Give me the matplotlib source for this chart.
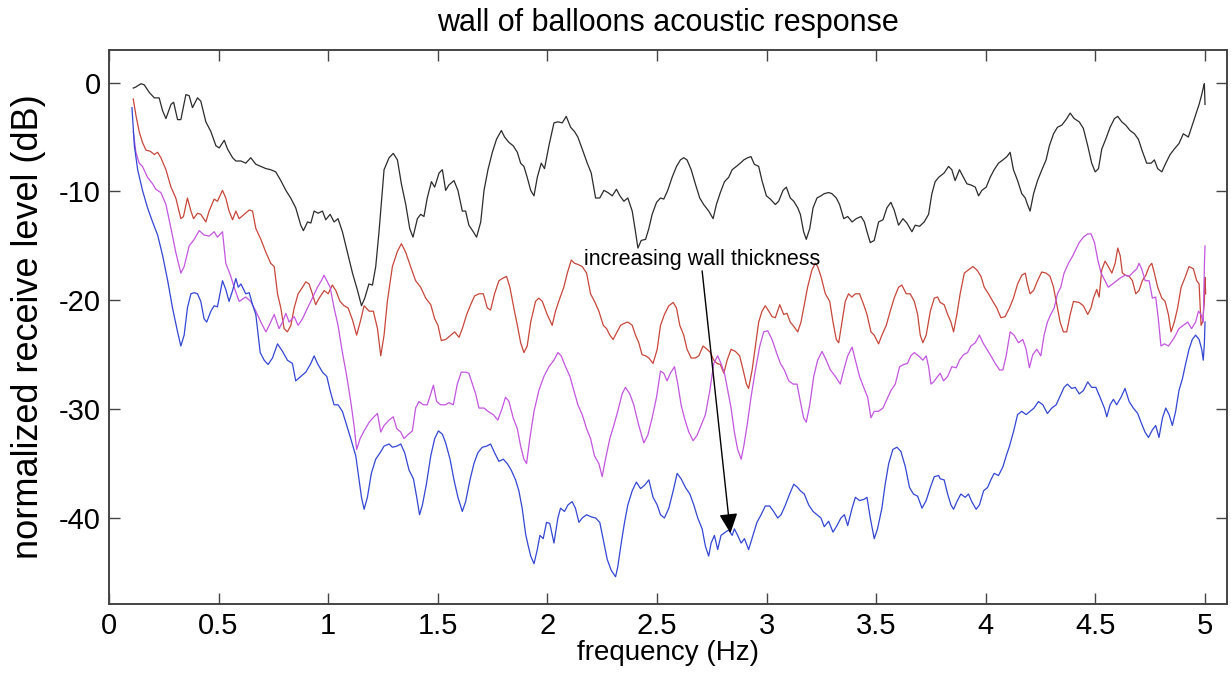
import matplotlib

matplotlib.use("Agg")
import matplotlib.pyplot as plt
import numpy as np

plt.rcParams["font.family"] = ["Liberation Sans", "DejaVu Sans"]
plt.rcParams["axes.unicode_minus"] = False

# 측정 곡선 (frequency Hz, level dB) - 그림에서 읽은 값
black_pts = [
    (0.111, -0.5), (0.123, -0.4), (0.146, -0.1), (0.161, -0.2), (0.184, -0.9), (0.207, -1.4),
    (0.229, -1.4), (0.245, -2.6), (0.260, -3.3), (0.283, -2.0), (0.295, -1.8), (0.313, -3.4),
    (0.328, -3.4), (0.351, -1.1), (0.366, -1.2), (0.381, -2.3), (0.404, -1.4), (0.419, -1.7),
    (0.442, -3.6), (0.465, -4.5), (0.488, -5.8), (0.503, -6.0), (0.526, -5.3), (0.541, -6.1),
    (0.564, -6.9), (0.579, -7.2), (0.602, -7.2), (0.624, -7.4), (0.647, -6.9), (0.670, -7.5),
    (0.693, -7.7), (0.716, -7.9), (0.738, -8.0), (0.761, -8.2), (0.784, -9.0), (0.807, -9.9),
    (0.829, -10.6), (0.852, -11.5), (0.875, -13.1), (0.887, -13.6), (0.906, -12.8), (0.921, -12.9),
    (0.936, -11.8), (0.954, -12.0), (0.974, -11.8), (0.989, -12.6), (1.009, -12.1), (1.027, -12.8),
    (1.045, -12.5), (1.065, -13.7), (1.088, -15.6), (1.111, -17.5), (1.134, -19.1), (1.152, -20.5),
    (1.167, -19.8), (1.186, -18.5), (1.202, -18.6), (1.217, -16.9), (1.232, -13.7), (1.255, -8.0),
    (1.278, -6.9), (1.297, -6.5), (1.316, -7.1), (1.334, -9.3), (1.354, -11.2), (1.372, -13.4),
    (1.387, -14.2), (1.407, -12.5), (1.422, -12.1), (1.437, -12.3), (1.452, -10.6), (1.471, -9.1),
    (1.486, -9.6), (1.506, -8.3), (1.521, -8.0), (1.536, -9.9), (1.551, -9.4), (1.574, -9.0),
    (1.592, -9.9), (1.612, -11.8), (1.627, -11.8), (1.642, -13.1), (1.662, -13.7), (1.677, -14.2),
    (1.696, -12.8), (1.711, -9.9), (1.729, -8.0), (1.749, -6.4), (1.768, -5.2), (1.790, -4.4),
    (1.805, -5.0), (1.825, -5.5), (1.844, -5.8), (1.863, -6.4), (1.878, -7.4), (1.893, -7.7),
    (1.908, -8.7), (1.924, -9.9), (1.939, -10.4), (1.954, -8.7), (1.972, -7.4), (1.987, -7.9),
    (2.007, -5.8), (2.030, -3.7), (2.048, -3.6), (2.068, -3.7), (2.086, -3.1), (2.106, -4.1),
    (2.124, -4.5), (2.139, -5.0), (2.159, -6.1), (2.182, -7.4), (2.200, -8.3), (2.220, -10.6),
    (2.239, -10.6), (2.258, -9.9), (2.276, -10.1), (2.296, -10.4), (2.315, -9.8), (2.331, -10.4),
    (2.349, -10.9), (2.367, -10.6), (2.387, -11.8), (2.402, -13.7), (2.413, -15.2), (2.428, -14.5),
    (2.448, -14.4), (2.463, -13.4), (2.478, -12.1), (2.498, -11.0), (2.516, -10.6), (2.531, -10.7),
    (2.549, -9.9), (2.569, -8.7), (2.589, -7.7), (2.607, -7.1), (2.622, -6.9), (2.637, -7.1),
    (2.656, -8.0), (2.675, -9.3), (2.695, -10.6), (2.713, -11.2), (2.736, -11.8), (2.756, -12.5),
    (2.771, -11.2), (2.789, -10.1), (2.808, -9.1), (2.827, -8.7), (2.843, -8.0), (2.862, -7.7),
    (2.880, -7.4), (2.896, -7.1), (2.914, -6.9), (2.929, -6.8), (2.944, -7.5), (2.964, -7.7),
    (2.979, -9.0), (2.999, -10.4), (3.017, -10.7), (3.040, -11.2), (3.055, -10.9), (3.075, -9.9),
    (3.090, -9.6), (3.108, -10.6), (3.124, -10.9), (3.142, -11.5), (3.154, -12.1), (3.169, -13.7),
    (3.181, -14.4), (3.197, -13.4), (3.212, -11.5), (3.230, -10.6), (3.248, -10.4), (3.263, -10.2),
    (3.283, -10.1), (3.298, -10.2), (3.318, -10.6), (3.333, -11.2), (3.352, -12.5), (3.370, -12.3),
    (3.390, -12.8), (3.409, -12.5), (3.431, -12.3), (3.446, -12.8), (3.458, -13.7), (3.473, -14.7),
    (3.491, -14.5), (3.511, -12.8), (3.531, -12.6), (3.549, -11.5), (3.567, -11.0), (3.582, -11.7),
    (3.602, -13.1), (3.622, -12.5), (3.640, -12.9), (3.663, -13.7), (3.678, -13.1), (3.698, -13.2),
    (3.719, -12.8), (3.739, -12.1), (3.754, -10.2), (3.769, -9.1), (3.785, -8.7), (3.810, -8.3),
    (3.830, -7.7), (3.845, -8.0), (3.860, -9.0), (3.880, -8.0), (3.898, -8.7), (3.914, -9.3),
    (3.932, -9.4), (3.952, -9.6), (3.967, -10.4), (3.982, -9.9), (4.002, -9.6), (4.020, -8.7),
    (4.038, -8.0), (4.058, -7.4), (4.078, -7.1), (4.096, -6.8), (4.111, -6.4), (4.126, -8.0),
    (4.145, -9.0), (4.164, -10.2), (4.180, -10.6), (4.190, -11.2), (4.202, -11.8), (4.218, -10.2),
    (4.236, -9.0), (4.256, -8.0), (4.275, -7.1), (4.290, -5.8), (4.309, -4.7), (4.327, -4.1),
    (4.347, -3.9), (4.366, -3.4), (4.385, -2.8), (4.403, -3.3), (4.426, -3.6), (4.445, -4.2),
    (4.465, -5.8), (4.483, -7.4), (4.499, -8.2), (4.514, -7.9), (4.529, -6.1), (4.547, -5.2),
    (4.567, -4.1), (4.587, -3.3), (4.602, -3.1), (4.620, -3.6), (4.638, -3.9), (4.658, -4.4),
    (4.678, -4.7), (4.696, -5.2), (4.714, -6.3), (4.734, -7.4), (4.754, -7.4), (4.769, -7.1),
    (4.784, -7.9), (4.803, -8.2), (4.821, -7.4), (4.841, -6.6), (4.860, -6.1), (4.881, -5.6),
    (4.901, -4.7), (4.924, -5.0), (4.942, -3.9), (4.957, -3.0), (4.973, -2.0), (4.985, -1.1),
    (4.994, -0.3), (4.997, -0.1), (5.000, -2.0),
]

red_pts = [
    (0.111, -1.5), (0.123, -3.0), (0.138, -4.5), (0.153, -5.5), (0.169, -6.2), (0.188, -6.3),
    (0.207, -6.6), (0.222, -6.4), (0.237, -6.9), (0.260, -8.0), (0.283, -9.6), (0.305, -10.6),
    (0.328, -12.5), (0.340, -12.3), (0.358, -10.6), (0.374, -11.8), (0.386, -12.5), (0.404, -12.0),
    (0.419, -12.1), (0.442, -12.8), (0.457, -11.8), (0.480, -10.7), (0.495, -10.9), (0.518, -9.9),
    (0.533, -10.6), (0.548, -11.8), (0.564, -12.6), (0.579, -11.8), (0.594, -12.5), (0.617, -12.1),
    (0.640, -11.7), (0.655, -11.8), (0.670, -13.4), (0.693, -14.4), (0.716, -15.6), (0.738, -16.6),
    (0.754, -16.9), (0.769, -19.4), (0.784, -20.7), (0.799, -22.6), (0.814, -22.9), (0.830, -22.3),
    (0.845, -20.7), (0.863, -19.4), (0.883, -18.8), (0.898, -18.3), (0.913, -18.5), (0.928, -19.4),
    (0.943, -20.4), (0.959, -19.8), (0.982, -19.1), (1.000, -19.4), (1.019, -18.6), (1.035, -19.1),
    (1.054, -20.1), (1.073, -20.5), (1.091, -20.7), (1.111, -21.8), (1.130, -23.2), (1.146, -22.0),
    (1.164, -20.5), (1.187, -21.0), (1.206, -21.0), (1.225, -22.6), (1.240, -25.1), (1.255, -23.2),
    (1.270, -20.1), (1.293, -16.9), (1.316, -15.5), (1.334, -14.8), (1.354, -15.6), (1.376, -16.9),
    (1.399, -18.2), (1.422, -18.8), (1.445, -19.8), (1.468, -20.4), (1.486, -21.7), (1.501, -22.3),
    (1.516, -23.7), (1.536, -23.6), (1.559, -23.2), (1.577, -22.9), (1.597, -23.4), (1.612, -22.6),
    (1.632, -21.3), (1.650, -20.4), (1.668, -19.6), (1.688, -19.4), (1.708, -19.4), (1.726, -20.7),
    (1.741, -20.9), (1.759, -19.4), (1.779, -18.2), (1.794, -18.0), (1.814, -17.8), (1.829, -18.8),
    (1.847, -20.7), (1.866, -22.6), (1.878, -23.9), (1.893, -24.8), (1.908, -24.2), (1.924, -22.0),
    (1.946, -20.1), (1.961, -19.8), (1.977, -20.1), (1.999, -21.3), (2.022, -22.3), (2.037, -21.0),
    (2.057, -19.8), (2.075, -18.8), (2.091, -17.5), (2.109, -16.3), (2.124, -16.6), (2.139, -16.7),
    (2.159, -16.9), (2.179, -17.5), (2.197, -19.4), (2.215, -20.1), (2.235, -21.0), (2.255, -22.3),
    (2.270, -22.6), (2.285, -23.2), (2.300, -23.6), (2.318, -22.9), (2.334, -22.3), (2.352, -22.1),
    (2.367, -22.0), (2.387, -22.3), (2.402, -23.2), (2.417, -23.9), (2.432, -25.0), (2.448, -25.1),
    (2.463, -25.3), (2.482, -25.8), (2.501, -24.5), (2.516, -22.3), (2.534, -21.3), (2.554, -20.5),
    (2.574, -20.2), (2.589, -20.7), (2.604, -22.3), (2.622, -23.2), (2.637, -24.5), (2.656, -25.3),
    (2.675, -25.3), (2.691, -25.1), (2.710, -24.2), (2.729, -24.5), (2.744, -24.8), (2.759, -25.5),
    (2.774, -25.8), (2.789, -25.9), (2.805, -26.7), (2.820, -25.5), (2.838, -24.5), (2.858, -24.7),
    (2.877, -25.1), (2.893, -26.4), (2.908, -27.7), (2.918, -28.1), (2.934, -26.4), (2.949, -24.2),
    (2.964, -22.0), (2.979, -21.0), (2.994, -20.5), (3.010, -21.0), (3.025, -21.5), (3.040, -21.6),
    (3.060, -20.4), (3.078, -21.3), (3.093, -21.2), (3.108, -22.0), (3.124, -22.4), (3.142, -22.9),
    (3.157, -22.0), (3.169, -20.7), (3.187, -18.8), (3.207, -17.2), (3.222, -16.6), (3.233, -16.9),
    (3.248, -17.8), (3.268, -19.4), (3.288, -20.1), (3.303, -22.0), (3.318, -23.6), (3.329, -23.9),
    (3.344, -22.0), (3.359, -20.1), (3.374, -19.4), (3.389, -19.7), (3.405, -19.4), (3.424, -19.4),
    (3.443, -20.4), (3.458, -21.3), (3.476, -22.9), (3.491, -23.2), (3.511, -24.0), (3.526, -23.2),
    (3.546, -22.3), (3.564, -21.0), (3.582, -19.8), (3.602, -18.8), (3.617, -18.6), (3.637, -19.4),
    (3.655, -19.4), (3.674, -20.1), (3.689, -21.3), (3.701, -23.2), (3.713, -23.9), (3.728, -23.2),
    (3.747, -21.0), (3.765, -19.8), (3.780, -19.7), (3.792, -20.2), (3.810, -20.4), (3.826, -21.3),
    (3.841, -22.0), (3.853, -22.9), (3.868, -21.3), (3.883, -19.4), (3.902, -17.5), (3.921, -17.2),
    (3.941, -16.9), (3.959, -17.2), (3.978, -17.8), (3.993, -18.8), (4.012, -19.4), (4.032, -20.1),
    (4.050, -20.7), (4.069, -21.6), (4.088, -21.5), (4.108, -20.7), (4.126, -19.8), (4.145, -18.5),
    (4.164, -17.7), (4.180, -17.5), (4.190, -18.5), (4.202, -19.4), (4.218, -19.1), (4.236, -18.2),
    (4.255, -17.4), (4.275, -17.5), (4.293, -17.8), (4.309, -18.8), (4.324, -20.4), (4.339, -22.0),
    (4.354, -22.9), (4.369, -22.9), (4.385, -21.3), (4.400, -20.1), (4.426, -20.2), (4.445, -20.5),
    (4.465, -21.3), (4.480, -20.7), (4.491, -19.8), (4.506, -19.0), (4.517, -19.7), (4.529, -17.2),
    (4.544, -16.4), (4.559, -16.9), (4.575, -17.5), (4.590, -16.6), (4.602, -15.2), (4.613, -15.9),
    (4.623, -17.5), (4.638, -17.7), (4.654, -17.8), (4.669, -18.2), (4.684, -19.4), (4.699, -19.1),
    (4.714, -18.2), (4.730, -17.7), (4.745, -16.9), (4.757, -16.6), (4.769, -17.5), (4.784, -18.8),
    (4.803, -19.8), (4.818, -20.1), (4.833, -21.3), (4.845, -22.9), (4.860, -22.0), (4.875, -20.7),
    (4.891, -18.8), (4.909, -17.9), (4.927, -16.9), (4.947, -17.1), (4.962, -18.2), (4.973, -18.5),
    (4.982, -22.3), (4.989, -22.0), (4.997, -20.1), (5.000, -17.9), (5.003, -19.4),
]

magenta_pts = [
    (0.111, -4.5), (0.123, -6.4), (0.138, -7.4), (0.153, -7.7), (0.176, -8.7), (0.199, -9.3),
    (0.214, -9.8), (0.237, -10.1), (0.260, -11.2), (0.283, -13.4), (0.305, -15.6), (0.328, -17.5),
    (0.343, -16.9), (0.366, -15.0), (0.389, -14.4), (0.412, -13.6), (0.434, -14.0), (0.457, -14.1),
    (0.480, -13.7), (0.495, -14.2), (0.518, -13.7), (0.533, -16.6), (0.556, -17.8), (0.571, -18.8),
    (0.594, -20.1), (0.624, -19.7), (0.647, -20.1), (0.670, -21.0), (0.693, -22.0), (0.716, -22.9),
    (0.731, -22.3), (0.754, -21.3), (0.776, -22.6), (0.792, -22.0), (0.807, -21.2), (0.822, -22.0),
    (0.845, -21.5), (0.863, -22.3), (0.883, -21.7), (0.906, -20.7), (0.928, -19.8), (0.951, -18.8),
    (0.969, -18.2), (0.981, -17.7), (0.994, -18.2), (1.009, -18.8), (1.027, -20.7), (1.045, -22.3),
    (1.065, -24.8), (1.085, -27.0), (1.103, -29.3), (1.118, -31.5), (1.130, -33.7), (1.146, -32.7),
    (1.164, -32.0), (1.187, -31.2), (1.209, -30.7), (1.225, -30.4), (1.240, -32.1), (1.255, -31.5),
    (1.278, -31.0), (1.297, -30.7), (1.313, -31.8), (1.331, -32.1), (1.346, -32.7), (1.361, -32.4),
    (1.384, -32.0), (1.399, -29.9), (1.414, -29.3), (1.434, -29.6), (1.452, -29.6), (1.468, -28.6),
    (1.480, -27.8), (1.495, -29.3), (1.513, -29.6), (1.536, -29.6), (1.551, -29.4), (1.571, -29.6),
    (1.589, -27.7), (1.607, -26.6), (1.627, -26.6), (1.642, -26.7), (1.658, -27.7), (1.673, -28.6),
    (1.688, -29.9), (1.711, -29.9), (1.729, -30.2), (1.753, -30.5), (1.774, -31.0), (1.794, -29.9),
    (1.809, -28.9), (1.825, -29.3), (1.844, -30.8), (1.863, -31.8), (1.878, -33.4), (1.893, -34.6),
    (1.905, -35.0), (1.920, -32.7), (1.939, -30.2), (1.961, -28.3), (1.984, -27.0), (2.007, -26.1),
    (2.030, -25.5), (2.048, -24.8), (2.063, -25.1), (2.083, -26.1), (2.103, -27.0), (2.121, -28.3),
    (2.139, -29.6), (2.159, -30.5), (2.179, -31.8), (2.197, -32.7), (2.215, -34.3), (2.235, -35.0),
    (2.250, -36.2), (2.265, -34.6), (2.285, -32.7), (2.303, -31.5), (2.321, -30.2), (2.341, -28.6),
    (2.356, -28.0), (2.376, -28.6), (2.394, -29.6), (2.417, -31.5), (2.440, -33.1), (2.458, -32.4),
    (2.478, -30.8), (2.498, -28.9), (2.516, -26.5), (2.531, -26.7), (2.546, -27.4), (2.561, -26.7),
    (2.580, -26.1), (2.595, -27.7), (2.610, -29.6), (2.625, -30.8), (2.645, -32.1), (2.665, -32.9),
    (2.683, -32.4), (2.701, -31.5), (2.721, -30.5), (2.741, -28.3), (2.759, -25.8), (2.777, -25.1),
    (2.792, -25.8), (2.808, -26.7), (2.823, -28.3), (2.838, -29.9), (2.853, -32.1), (2.868, -33.7),
    (2.884, -34.6), (2.896, -33.4), (2.911, -31.5), (2.929, -28.9), (2.949, -26.4), (2.969, -24.2),
    (2.987, -22.9), (3.005, -22.8), (3.025, -23.6), (3.045, -24.8), (3.063, -25.8), (3.081, -26.4),
    (3.101, -27.4), (3.121, -27.7), (3.139, -27.7), (3.154, -29.3), (3.169, -30.8), (3.181, -31.2),
    (3.197, -29.6), (3.215, -27.0), (3.233, -25.5), (3.253, -24.7), (3.272, -25.5), (3.291, -26.4),
    (3.314, -27.0), (3.336, -27.7), (3.352, -26.4), (3.370, -25.1), (3.390, -24.3), (3.405, -25.5),
    (3.424, -27.0), (3.443, -28.0), (3.461, -28.9), (3.476, -30.8), (3.491, -30.2), (3.511, -30.2),
    (3.531, -29.9), (3.549, -29.1), (3.567, -28.3), (3.587, -27.7), (3.607, -26.1), (3.625, -25.9),
    (3.643, -25.8), (3.658, -25.1), (3.674, -24.8), (3.693, -25.1), (3.713, -25.5), (3.728, -25.1),
    (3.739, -26.1), (3.750, -27.7), (3.762, -27.5), (3.780, -27.0), (3.792, -26.7), (3.807, -27.4),
    (3.826, -27.0), (3.845, -26.1), (3.865, -26.2), (3.880, -25.5), (3.898, -25.0), (3.917, -24.8),
    (3.932, -24.2), (3.952, -23.9), (3.971, -23.2), (3.987, -23.9), (4.005, -24.5), (4.023, -25.1),
    (4.043, -25.8), (4.063, -26.4), (4.078, -26.4), (4.093, -25.1), (4.111, -22.9), (4.129, -23.2),
    (4.149, -23.9), (4.169, -23.6), (4.184, -24.5), (4.199, -26.2), (4.214, -25.0), (4.233, -24.5),
    (4.251, -25.1), (4.266, -23.2), (4.281, -22.0), (4.296, -21.3), (4.312, -20.7), (4.327, -19.4),
    (4.342, -18.8), (4.357, -17.5), (4.377, -16.6), (4.397, -15.9), (4.426, -14.7), (4.445, -14.2),
    (4.465, -13.9), (4.480, -13.9), (4.496, -14.7), (4.511, -16.3), (4.526, -17.5), (4.544, -18.2),
    (4.559, -18.8), (4.578, -18.5), (4.597, -18.2), (4.617, -17.9), (4.635, -17.7), (4.654, -17.8),
    (4.673, -17.4), (4.689, -17.1), (4.699, -16.6), (4.711, -17.1), (4.727, -18.2), (4.745, -18.2),
    (4.760, -19.8), (4.775, -19.7), (4.787, -21.7), (4.799, -24.2), (4.815, -24.0), (4.833, -24.2),
    (4.851, -23.7), (4.866, -23.2), (4.881, -22.6), (4.901, -22.3), (4.921, -22.0), (4.939, -22.6),
    (4.957, -22.0), (4.970, -21.0), (4.982, -21.3), (4.992, -22.0), (4.997, -16.9), (5.000, -15.0),
]

blue_pts = [
    (0.105, -2.3), (0.116, -5.8), (0.131, -8.0), (0.153, -9.9), (0.176, -11.5), (0.199, -12.8),
    (0.222, -14.0), (0.245, -15.9), (0.268, -18.2), (0.290, -20.7), (0.313, -22.9), (0.328, -24.2),
    (0.343, -23.2), (0.358, -20.7), (0.374, -19.4), (0.389, -19.3), (0.404, -19.4), (0.419, -20.1),
    (0.434, -21.7), (0.446, -22.0), (0.465, -21.0), (0.480, -20.5), (0.495, -20.6), (0.518, -18.2),
    (0.533, -19.0), (0.548, -20.1), (0.564, -19.1), (0.579, -18.0), (0.590, -18.8), (0.602, -18.5),
    (0.624, -19.4), (0.640, -19.3), (0.655, -20.4), (0.670, -21.3), (0.690, -24.8), (0.708, -25.5),
    (0.726, -25.9), (0.746, -25.3), (0.769, -24.0), (0.792, -24.7), (0.814, -25.5), (0.837, -25.8),
    (0.852, -27.4), (0.875, -27.0), (0.898, -26.6), (0.921, -25.8), (0.936, -25.1), (0.951, -25.8),
    (0.974, -26.6), (0.994, -27.0), (1.009, -28.3), (1.027, -29.6), (1.045, -29.6), (1.065, -30.2),
    (1.085, -31.5), (1.103, -32.7), (1.126, -34.3), (1.141, -36.5), (1.152, -38.1), (1.164, -39.2),
    (1.179, -38.1), (1.197, -35.9), (1.217, -34.6), (1.237, -34.0), (1.255, -33.4), (1.278, -33.2),
    (1.293, -33.5), (1.313, -33.4), (1.331, -33.2), (1.349, -34.0), (1.369, -35.6), (1.389, -36.4),
    (1.404, -38.1), (1.417, -39.7), (1.430, -38.8), (1.448, -36.9), (1.468, -34.3), (1.486, -32.7),
    (1.503, -32.0), (1.521, -32.3), (1.536, -33.1), (1.556, -34.6), (1.574, -36.5), (1.592, -38.1),
    (1.612, -39.4), (1.627, -38.5), (1.647, -36.5), (1.665, -35.0), (1.683, -34.0), (1.703, -33.5),
    (1.723, -33.4), (1.741, -33.2), (1.759, -34.0), (1.779, -34.8), (1.799, -34.6), (1.817, -35.0),
    (1.835, -35.6), (1.855, -36.5), (1.870, -37.5), (1.885, -39.1), (1.901, -41.5), (1.912, -42.5),
    (1.924, -43.5), (1.939, -44.2), (1.954, -42.9), (1.966, -41.6), (1.981, -41.9), (1.996, -40.4),
    (2.011, -40.5), (2.030, -42.3), (2.048, -40.0), (2.060, -39.1), (2.078, -39.4), (2.094, -38.8),
    (2.113, -38.5), (2.128, -39.1), (2.144, -40.4), (2.159, -40.0), (2.179, -39.7), (2.200, -39.9),
    (2.220, -40.0), (2.239, -40.4), (2.258, -42.3), (2.273, -43.8), (2.291, -44.8), (2.311, -45.4),
    (2.321, -44.5), (2.337, -42.3), (2.352, -40.4), (2.367, -38.8), (2.387, -37.5), (2.406, -36.7),
    (2.425, -37.3), (2.443, -37.0), (2.463, -36.5), (2.482, -38.1), (2.501, -38.8), (2.516, -39.7),
    (2.534, -40.0), (2.554, -39.1), (2.574, -37.5), (2.592, -35.9), (2.610, -36.4), (2.630, -37.2),
    (2.650, -37.8), (2.668, -38.8), (2.686, -40.0), (2.706, -41.0), (2.721, -42.6), (2.736, -43.5),
    (2.747, -42.3), (2.762, -41.6), (2.777, -42.9), (2.792, -41.6), (2.812, -41.3), (2.827, -41.1),
    (2.843, -41.6), (2.853, -41.0), (2.868, -41.6), (2.884, -42.3), (2.899, -41.9), (2.918, -42.9),
    (2.938, -41.6), (2.956, -40.4), (2.975, -39.7), (2.994, -38.9), (3.014, -38.9), (3.032, -39.4),
    (3.051, -40.0), (3.066, -39.7), (3.086, -38.8), (3.105, -37.8), (3.124, -36.9), (3.142, -37.2),
    (3.154, -37.5), (3.172, -37.8), (3.192, -38.8), (3.212, -39.4), (3.230, -39.7), (3.248, -40.0),
    (3.263, -40.8), (3.283, -40.3), (3.303, -41.3), (3.321, -40.7), (3.339, -40.0), (3.355, -39.7),
    (3.370, -40.7), (3.390, -39.1), (3.405, -38.1), (3.424, -38.4), (3.443, -38.3), (3.458, -38.1),
    (3.473, -40.0), (3.491, -41.9), (3.506, -41.0), (3.526, -39.1), (3.541, -36.9), (3.557, -35.0),
    (3.576, -33.7), (3.595, -33.5), (3.613, -33.9), (3.633, -35.3), (3.652, -37.2), (3.670, -37.8),
    (3.689, -38.0), (3.709, -39.1), (3.728, -38.4), (3.747, -37.2), (3.765, -36.2), (3.785, -36.1),
    (3.792, -36.4), (3.810, -36.5), (3.826, -37.8), (3.841, -38.8), (3.853, -39.2), (3.868, -38.5),
    (3.886, -37.8), (3.906, -38.1), (3.921, -37.8), (3.936, -38.5), (3.956, -39.2), (3.971, -38.8),
    (3.990, -37.5), (4.008, -37.2), (4.023, -36.5), (4.038, -35.9), (4.058, -36.1), (4.078, -35.3),
    (4.093, -34.3), (4.108, -33.4), (4.126, -32.1), (4.145, -30.5), (4.164, -30.2), (4.184, -30.5),
    (4.202, -30.2), (4.220, -29.9), (4.240, -29.3), (4.260, -29.6), (4.281, -30.4), (4.301, -29.9),
    (4.321, -29.6), (4.339, -28.8), (4.357, -28.0), (4.372, -27.7), (4.392, -28.1), (4.408, -28.0),
    (4.426, -28.6), (4.445, -28.3), (4.465, -27.5), (4.483, -28.0), (4.502, -28.0), (4.521, -28.9),
    (4.541, -29.9), (4.552, -30.7), (4.567, -29.6), (4.582, -29.1), (4.597, -29.6), (4.617, -28.9),
    (4.635, -28.1), (4.654, -29.3), (4.673, -29.9), (4.693, -30.4), (4.708, -31.2), (4.726, -32.1),
    (4.742, -32.6), (4.760, -31.9), (4.775, -31.5), (4.790, -32.6), (4.806, -30.8), (4.821, -29.9),
    (4.836, -30.5), (4.851, -31.5), (4.866, -30.2), (4.881, -28.3), (4.897, -27.2), (4.912, -25.8),
    (4.927, -24.5), (4.942, -23.6), (4.957, -23.2), (4.973, -23.6), (4.985, -24.5), (4.992, -25.5),
    (4.997, -24.0), (5.000, -22.0),
]

x_ticks = [0, 0.5, 1, 1.5, 2, 2.5, 3, 3.5, 4, 4.5, 5]
x_tick_labels = ["0", "0.5", "1", "1.5", "2", "2.5", "3", "3.5", "4", "4.5", "5"]
y_ticks = [-40, -30, -20, -10, 0]

series = [
    (black_pts, "#2b2b2b"),
    (red_pts, "#c8463a"),
    (magenta_pts, "#c455e0"),
    (blue_pts, "#3346d4"),
]

fig = plt.figure(figsize=(12.31, 6.79), dpi=100)
ax = fig.add_axes((0.0885, 0.1105, 0.9082, 0.8159))

for pts, color in series:
    f, lvl = np.array(pts).T
    ax.plot(f, lvl, color=color, lw=0.9)

ax.set_xlim(0, 5.1)
ax.set_ylim(-47.9, 3.0)
ax.set_xticks(x_ticks)
ax.set_xticklabels(x_tick_labels)
ax.set_yticks(y_ticks)

for sp in ax.spines.values():
    sp.set_color("#444444")
    sp.set_linewidth(1.4)
ax.tick_params(direction="in", length=8, width=1.0, color="#444444",
               top=True, right=True, labelsize=21)
ax.tick_params(axis="x", pad=6)
ax.tick_params(axis="y", pad=6)

ax.set_title("wall of balloons acoustic response", fontsize=22, pad=14)
ax.set_xlabel("frequency (Hz)", fontsize=20, labelpad=0)
ax.set_ylabel("normalized receive level (dB)", fontsize=26, labelpad=9)

# 벽 두께 증가 방향 주석
ax.text(2.167, -16.8, "increasing wall thickness", fontsize=15.5, va="baseline", ha="left")
ax.annotate(
    "",
    xy=(2.835, -41.4),
    xytext=(2.706, -17.3),
    arrowprops=dict(arrowstyle="-|>,head_length=0.6,head_width=0.28",
                    color="black", lw=1.0, mutation_scale=20,
                    shrinkA=0, shrinkB=0),
)

fig.savefig("out.png", dpi=100)
